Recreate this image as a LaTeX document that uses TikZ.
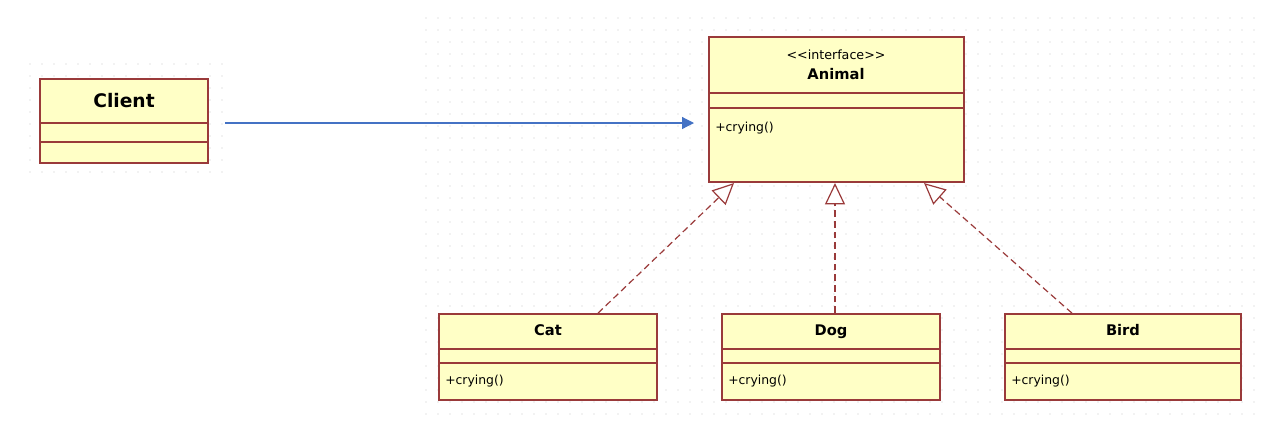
\documentclass[tikz,border=0pt]{standalone}
\usepackage{fontspec}
\setmainfont{DejaVu Sans}
\usetikzlibrary{arrows.meta}
\definecolor{boxfill}{HTML}{FFFFC6}
\definecolor{boxline}{HTML}{9A3A3A}
\definecolor{arrblue}{HTML}{4472C4}
\definecolor{dotc}{HTML}{C8C8C8}
\tikzset{
  umlbox/.style={draw=boxline, fill=boxfill, line width=1.3pt, inner sep=0pt},
  sep/.style={draw=boxline, line width=1.1pt},
  title/.style={font=\bfseries\fontsize{11}{13}\selectfont, inner sep=0pt, anchor=base},
  meth/.style={font=\fontsize{9.3}{11}\selectfont, inner sep=0pt, anchor=west},
  stereo/.style={font=\fontsize{9.5}{11}\selectfont, inner sep=0pt},
  realize/.style={draw=boxline, line width=0.9pt, dashed, dash pattern=on 5pt off 3pt,
    -{Triangle[open, length=16pt, width=15pt, line width=0.9pt, fill=white]}},
  assoc/.style={draw=arrblue, line width=0.9pt, -{Triangle[length=9pt, width=9pt]}},
}
\begin{document}
\begin{tikzpicture}[x=0.75pt,y=-0.75pt]
\useasboundingbox (0,0) rectangle (1268,440);
% background dots
\foreach \x in {30,42,...,222} \foreach \y in {64,76,...,172} \fill[dotc] (\x,\y) circle (0.7);
\foreach \x in {426,438,...,1260} \foreach \y in {18,30,...,414} \fill[dotc] (\x,\y) circle (0.7);

% Client
\node[umlbox, minimum width=126pt, minimum height=63pt] (client) at (124,121) {};
\node[title, font=\bfseries\fontsize{14}{16}\selectfont] (clientname) at (124,107) {Client};
\draw[sep] (client.west |- 0,123) -- (client.east |- 0,123);
\draw[sep] (client.west |- 0,142) -- (client.east |- 0,142);
\coordinate (clientout) at (225,123);

% Animal
\node[umlbox, minimum width=191pt, minimum height=109pt] (animal) at (836.5,109.5) {};
\node[stereo] (stereo) at (836,55) {<\kern0pt<interface>\kern0pt>};
\node[title] (animalname) at (836,79) {Animal};
\draw[sep] (animal.west |- 0,93) -- (animal.east |- 0,93);
\draw[sep] (animal.west |- 0,108) -- (animal.east |- 0,108);
\node[meth] (animalm) at (715,128) {+crying()};
\coordinate (animalin) at (694,123);

% Cat
\node[umlbox, minimum width=163.5pt, minimum height=64.5pt] (cat) at (548,357) {};
\node[title] (catname) at (548,335) {Cat};
\draw[sep] (cat.west |- 0,349) -- (cat.east |- 0,349);
\draw[sep] (cat.west |- 0,363) -- (cat.east |- 0,363);
\node[meth] (catm) at (445,381) {+crying()};

% Dog
\node[umlbox, minimum width=163.5pt, minimum height=64.5pt] (dog) at (831,357) {};
\node[title] (dogname) at (831,335) {Dog};
\draw[sep] (dog.west |- 0,349) -- (dog.east |- 0,349);
\draw[sep] (dog.west |- 0,363) -- (dog.east |- 0,363);
\node[meth] (dogm) at (728,381) {+crying()};

% Bird
\node[umlbox, minimum width=177pt, minimum height=64.5pt] (bird) at (1123,357) {};
\node[title] (birdname) at (1123,335) {Bird};
\draw[sep] (bird.west |- 0,349) -- (bird.east |- 0,349);
\draw[sep] (bird.west |- 0,363) -- (bird.east |- 0,363);
\node[meth] (birdm) at (1011,381) {+crying()};

% connectors
\draw[assoc] (clientout) -- (animalin);
\draw[realize] (cat.north -| 598,0) -- (animal.south -| 734,0);
\draw[realize] (dog.north -| 835,0) -- (animal.south -| 835,0);
\draw[realize] (bird.north -| 1072,0) -- (animal.south -| 924,0);
\end{tikzpicture}
\end{document}
